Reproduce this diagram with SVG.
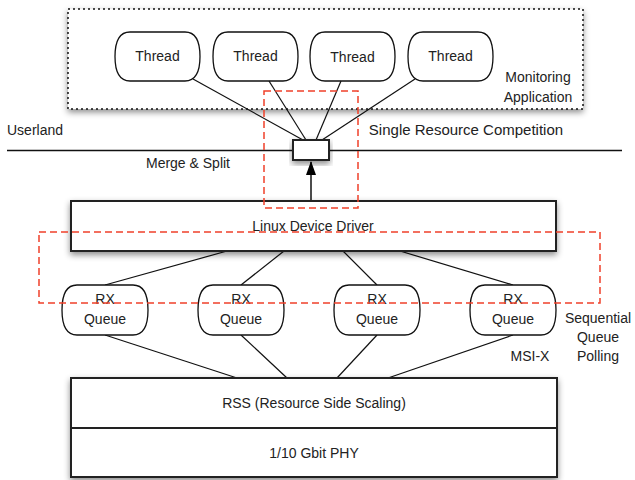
<svg xmlns="http://www.w3.org/2000/svg" width="635" height="480" viewBox="0 0 635 480">
<defs>
<filter id="sh" x="-10%" y="-20%" width="120%" height="150%">
<feDropShadow dx="0" dy="3" stdDeviation="3" flood-color="#000" flood-opacity="0.45"/>
</filter>
<marker id="arr" markerWidth="14" markerHeight="10" refX="13" refY="5" orient="auto" markerUnits="userSpaceOnUse" viewBox="0 0 14 10">
<path d="M0,0 L14,5 L0,10 Z" fill="#000"/>
</marker>
</defs>
<style>
text{font-family:"Liberation Sans",Arial,sans-serif;font-size:14px;fill:#222;text-anchor:middle}
.box{fill:#fff;stroke:#222;stroke-width:2}
.pill{fill:#fff;stroke:#111;stroke-width:1.3}
.ln{stroke:#111;stroke-width:1.2;fill:none}
.red{fill:none;stroke:#f0402a;stroke-width:1.5;stroke-dasharray:7,4}
</style>
<rect width="635" height="480" fill="#fff"/>

<g id="monitoring-app">
<rect x="68" y="9" width="515" height="100" fill="#fff" stroke="#111" stroke-width="1.5" stroke-dasharray="2,3" filter="url(#sh)"/>
<text x="538" y="82">Monitoring</text>
<text x="538" y="102">Application</text>
</g>

<g id="thread1"><path class="pill" d="M130,32 H185 Q200,32 200,56.5 Q200,81 185,81 H130 Q115,81 115,56.5 Q115,32 130,32 Z"/><text x="157.5" y="61">Thread</text></g>
<g id="thread2"><path class="pill" d="M228,32 H283 Q298,32 298,56.5 Q298,81 283,81 H228 Q213,81 213,56.5 Q213,32 228,32 Z"/><text x="255.5" y="61">Thread</text></g>
<g id="thread3"><path class="pill" d="M325,32 H380 Q395,32 395,56.5 Q395,81 380,81 H325 Q310,81 310,56.5 Q310,32 325,32 Z"/><text x="352.5" y="62">Thread</text></g>
<g id="thread4"><path class="pill" d="M423,32 H478 Q493,32 493,56.5 Q493,81 478,81 H423 Q408,81 408,56.5 Q408,32 423,32 Z"/><text x="450.5" y="61">Thread</text></g>

<g id="labels">
<text x="7" y="135" style="text-anchor:start">Userland</text>
<text x="466" y="135" style="font-size:15px">Single Resource Competition</text>
<text x="188" y="168">Merge &amp; Split</text>
<text x="598" y="323">Sequential</text>
<text x="598" y="342">Queue</text>
<text x="598" y="361">Polling</text>
<text x="530" y="361">MSI-X</text>
</g>

<g id="connectors">
<line x1="7" y1="150.5" x2="622" y2="150.5" stroke="#111" stroke-width="1.3"/>
<line class="ln" x1="193" y1="79" x2="303" y2="140"/>
<line class="ln" x1="269" y1="81" x2="306" y2="140"/>
<line class="ln" x1="341" y1="81" x2="316" y2="140"/>
<line class="ln" x1="415" y1="79" x2="322" y2="140"/>
<line x1="311" y1="201" x2="311" y2="162" stroke="#111" stroke-width="1.5" marker-end="url(#arr)"/>
<line class="ln" x1="227" y1="251" x2="105" y2="285"/>
<line class="ln" x1="284" y1="251" x2="241" y2="285"/>
<line class="ln" x1="343" y1="251" x2="377" y2="285"/>
<line class="ln" x1="400" y1="251" x2="513" y2="285"/>
<line class="ln" x1="105" y1="335" x2="237" y2="378"/>
<line class="ln" x1="241" y1="335" x2="287" y2="378"/>
<line class="ln" x1="377" y1="335" x2="337" y2="378"/>
<line class="ln" x1="513" y1="335" x2="388" y2="378"/>
</g>

<g id="merge-split">
<rect x="293" y="140" width="36" height="20" class="box" stroke-width="1.5" filter="url(#sh)"/>
</g>

<g id="linux-driver">
<rect x="71" y="201" width="485" height="50" class="box" filter="url(#sh)"/>
<text x="313" y="231">Linux Device Driver</text>
</g>

<g id="rxq1"><path class="pill" d="M77,285 H133 Q148,285 148,310 Q148,335 133,335 H77 Q62,335 62,310 Q62,285 77,285 Z"/><text x="105" y="304">RX</text><text x="105" y="324">Queue</text></g>
<g id="rxq2"><path class="pill" d="M213,285 H269 Q284,285 284,310 Q284,335 269,335 H213 Q198,335 198,310 Q198,285 213,285 Z"/><text x="241" y="304">RX</text><text x="241" y="324">Queue</text></g>
<g id="rxq3"><path class="pill" d="M349,285 H405 Q420,285 420,310 Q420,335 405,335 H349 Q334,335 334,310 Q334,285 349,285 Z"/><text x="377" y="304">RX</text><text x="377" y="324">Queue</text></g>
<g id="rxq4"><path class="pill" d="M485,285 H541 Q556,285 556,310 Q556,335 541,335 H485 Q470,335 470,310 Q470,285 485,285 Z"/><text x="513" y="304">RX</text><text x="513" y="324">Queue</text></g>

<g id="rss">
<rect x="71" y="378" width="486" height="99" class="box" filter="url(#sh)"/>
<line x1="71" y1="428" x2="557" y2="428" stroke="#222" stroke-width="2"/>
<text x="314" y="408">RSS (Resource Side Scaling)</text>
</g>
<g id="phy">
<text x="314" y="458">1/10 Gbit PHY</text>
</g>

<g id="highlights">
<rect class="red" x="264" y="91" width="94" height="117"/>
<rect class="red" x="39" y="232" width="561" height="71"/>
</g>
</svg>
